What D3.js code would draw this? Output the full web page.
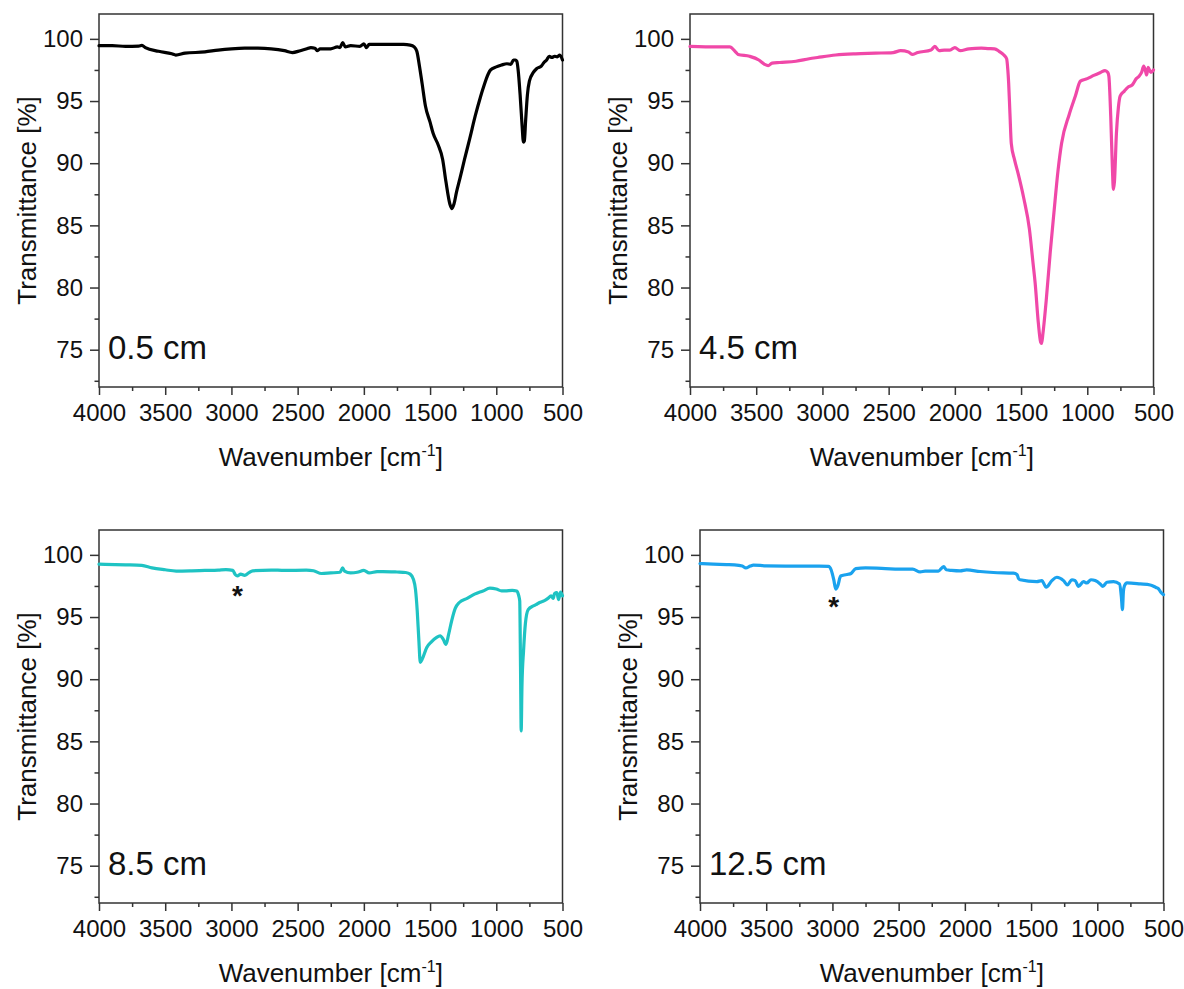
<!DOCTYPE html>
<html>
<head>
<meta charset="utf-8">
<script src="https://cdn.jsdelivr.net/npm/d3@7"></script>
<style>
  body { margin: 0; background: #fff; }
  svg text { font-family: "Liberation Sans", Arial, sans-serif; fill: #111; }
  .frame { fill: none; stroke: #333; stroke-width: 1.5; }
  .axis line { stroke: #333; stroke-width: 1.5; }
  .axis path { display: none; }
  .axis text { font-size: 24px; fill: #111; font-family: "Liberation Sans", Arial, sans-serif; }
  .axis-title { font-size: 26px; }
  .panel-label { font-size: 33px; }
  .asterisk { font-size: 28px; font-weight: bold; }
  .spectrum { fill: none; stroke-width: 3.2; stroke-linejoin: round; stroke-linecap: round; }
</style>
</head>
<body>
<div id="chart"></div>
<script>
// ---- data ----
const wavenumberDomain = [4000, 500];
const transmittanceDomain = [72, 102];
const wavenumberTicks = [4000, 3500, 3000, 2500, 2000, 1500, 1000, 500];
const wavenumberMinorTicks = [3750, 3250, 2750, 2250, 1750, 1250, 750];
const transmittanceTicks = [75, 80, 85, 90, 95, 100];
const transmittanceMinorTicks = [72.5, 77.5, 82.5, 87.5, 92.5, 97.5];

const panelLabels = ["0.5 cm", "4.5 cm", "8.5 cm", "12.5 cm"];
const seriesColors = ["#000000", "#f048a8", "#1fc3c3", "#1aa2ee"];

// [wavenumber, transmittance]
const spectrum05 = [
  [4000, 99.45], [3900, 99.45], [3800, 99.4], [3700, 99.42], [3676, 99.48], [3650, 99.3],
  [3550, 99.0], [3450, 98.8], [3420, 98.7], [3350, 98.85], [3200, 98.95], [3100, 99.1],
  [3000, 99.2], [2900, 99.25], [2800, 99.25], [2700, 99.2], [2600, 99.05], [2540, 98.9],
  [2480, 99.05], [2430, 99.2], [2400, 99.3], [2370, 99.25], [2350, 99.05], [2330, 99.2],
  [2250, 99.2], [2200, 99.35], [2180, 99.3], [2160, 99.7], [2140, 99.35], [2100, 99.45],
  [2030, 99.4], [2000, 99.6], [1980, 99.3], [1960, 99.55], [1900, 99.55], [1800, 99.55],
  [1700, 99.55], [1650, 99.5], [1620, 99.35], [1600, 99.0], [1580, 97.8], [1560, 96.4],
  [1535, 94.6], [1500, 93.3], [1477, 92.4], [1440, 91.5], [1405, 90.3], [1380, 88.5],
  [1350, 86.7], [1335, 86.35], [1320, 86.7], [1300, 87.7], [1274, 88.8], [1240, 90.3],
  [1200, 92.0], [1159, 93.8], [1120, 95.3], [1100, 96.0], [1060, 97.2], [1043, 97.5],
  [1000, 97.75], [960, 97.9], [920, 98.0], [890, 97.95], [870, 98.3], [855, 98.3],
  [845, 98.2], [835, 97.5], [820, 95.5], [805, 93.0], [795, 91.7], [788, 91.8],
  [778, 93.5], [765, 95.5], [750, 96.6], [720, 97.3], [696, 97.6], [660, 97.8],
  [640, 98.1], [620, 98.3], [600, 98.6], [580, 98.5], [560, 98.6], [540, 98.55],
  [520, 98.7], [500, 98.3]
];

const spectrum45 = [
  [4000, 99.4], [3800, 99.35], [3700, 99.35], [3660, 99.0], [3637, 98.75], [3550, 98.6],
  [3480, 98.3], [3437, 97.95], [3410, 97.85], [3380, 98.05], [3323, 98.1], [3200, 98.2],
  [3100, 98.4], [3037, 98.5], [2900, 98.7], [2751, 98.8], [2600, 98.85], [2466, 98.9],
  [2409, 99.05], [2350, 98.95], [2323, 98.75], [2280, 98.9], [2180, 99.1], [2151, 99.4],
  [2120, 99.05], [2080, 99.1], [2037, 99.1], [2000, 99.3], [1960, 99.05], [1894, 99.2],
  [1800, 99.25], [1751, 99.22], [1700, 99.2], [1666, 99.0], [1630, 98.7], [1609, 98.4],
  [1600, 97.5], [1594, 96.5], [1584, 94.0], [1574, 91.6], [1550, 90.3], [1523, 89.2],
  [1480, 87.2], [1437, 84.7], [1410, 82.0], [1394, 80.4], [1370, 77.2], [1352, 75.6],
  [1345, 75.5], [1335, 76.3], [1309, 79.1], [1280, 82.8], [1252, 86.0], [1220, 89.5],
  [1194, 91.6], [1137, 93.9], [1090, 95.4], [1052, 96.6], [1000, 96.8], [951, 97.06],
  [900, 97.3], [866, 97.45], [845, 97.3], [837, 97.0], [823, 93.8], [810, 89.5],
  [803, 87.9], [795, 88.5], [780, 92.4], [765, 94.5], [752, 95.4], [720, 95.8],
  [694, 96.1], [660, 96.3], [630, 96.8], [609, 97.0], [590, 97.3], [574, 97.8],
  [560, 97.4], [552, 97.1], [540, 97.7], [520, 97.3], [500, 97.5]
];

const spectrum85 = [
  [4000, 99.25], [3800, 99.2], [3677, 99.15], [3600, 98.95], [3500, 98.8], [3417, 98.7],
  [3300, 98.72], [3200, 98.75], [3100, 98.78], [3041, 98.82], [2990, 98.75], [2970, 98.4],
  [2955, 98.3], [2930, 98.45], [2900, 98.35], [2870, 98.55], [2839, 98.72], [2700, 98.78],
  [2600, 98.75], [2435, 98.77], [2380, 98.72], [2320, 98.5], [2250, 98.55], [2180, 98.6],
  [2160, 98.95], [2146, 98.7], [2100, 98.55], [2050, 98.6], [2000, 98.75], [1960, 98.55],
  [1900, 98.65], [1857, 98.66], [1750, 98.62], [1684, 98.58], [1650, 98.45], [1626, 98.04],
  [1610, 97.2], [1597, 95.5], [1585, 93.2], [1574, 91.35], [1560, 91.6], [1525, 92.55],
  [1490, 93.0], [1453, 93.35], [1424, 93.49], [1400, 93.2], [1380, 92.8], [1360, 93.6],
  [1337, 94.7], [1310, 95.7], [1279, 96.17], [1220, 96.5], [1164, 96.84], [1100, 97.1],
  [1048, 97.32], [1000, 97.25], [960, 97.1], [933, 97.1], [880, 97.15], [846, 97.1],
  [830, 96.7], [823, 96.3], [817, 91.0], [812, 85.85], [806, 89.5], [794, 92.3],
  [780, 94.5], [759, 95.6], [720, 95.9], [700, 96.0], [673, 96.17], [640, 96.3],
  [610, 96.5], [586, 96.7], [570, 96.5], [560, 96.9], [543, 96.97], [530, 96.4],
  [515, 97.0], [500, 96.7]
];

const spectrum125 = [
  [4000, 99.3], [3900, 99.25], [3800, 99.22], [3740, 99.2], [3680, 99.1], [3654, 98.95],
  [3620, 99.1], [3597, 99.18], [3500, 99.12], [3300, 99.1], [3100, 99.1], [3030, 99.08],
  [3010, 98.8], [2990, 98.0], [2975, 97.25], [2960, 97.5], [2938, 98.3], [2900, 98.4],
  [2881, 98.44], [2860, 98.5], [2824, 98.9], [2750, 98.95], [2600, 98.9], [2500, 98.85],
  [2394, 98.85], [2337, 98.63], [2300, 98.7], [2200, 98.7], [2160, 99.05], [2140, 98.8],
  [2100, 98.75], [2036, 98.71], [1986, 98.79], [1885, 98.66], [1784, 98.58], [1633, 98.53],
  [1605, 98.4], [1595, 98.1], [1583, 98.0], [1457, 97.85], [1419, 97.93], [1386, 97.4],
  [1343, 97.93], [1306, 98.2], [1255, 97.93], [1225, 97.58], [1192, 98.0], [1167, 97.93],
  [1142, 97.47], [1104, 97.85], [1079, 97.74], [1048, 98.0], [1016, 97.93], [978, 97.66],
  [958, 97.47], [927, 97.8], [877, 97.85], [832, 97.66], [818, 96.6], [810, 95.6],
  [803, 97.0], [795, 97.5], [776, 97.74], [675, 97.66], [600, 97.58], [557, 97.38],
  [540, 97.3], [520, 97.0], [500, 96.8]
];

const spectra = [spectrum05, spectrum45, spectrum85, spectrum125];
// [wavenumber, transmittance] of the "*" markers (null = none)
const asteriskMarks = [null, null, [2955, 97.25], [2990, 96.35]];

// ---- panel layout ----
const panelLayout = [
  { left: 99, top: 14 },
  { left: 690, top: 14 },
  { left: 99, top: 530 },
  { left: 700, top: 530 }
];
const panelWidth = 463.5;
const panelHeight = 373;

class SpectrumPanel {
  constructor(_svg, _layout, _data, _color, _label, _asterisk) {
    this.svg = _svg;
    this.layout = _layout;
    this.data = _data;
    this.color = _color;
    this.label = _label;
    this.asterisk = _asterisk;
    this.initVis();
  }

  initVis() {
    let vis = this;
    vis.width = panelWidth;
    vis.height = panelHeight;

    vis.g = vis.svg
      .append("g")
      .attr("transform", "translate(" + vis.layout.left + "," + vis.layout.top + ")");

    vis.x = d3.scaleLinear().domain(wavenumberDomain).range([0, vis.width]);
    vis.y = d3.scaleLinear().domain(transmittanceDomain).range([vis.height, 0]);

    // major + minor ticks, bottom
    vis.g.append("g")
      .attr("class", "axis")
      .attr("transform", "translate(0," + vis.height + ")")
      .call(d3.axisBottom(vis.x).tickValues(wavenumberTicks).tickSize(8).tickPadding(9).tickFormat(d3.format("d")));
    vis.g.append("g")
      .attr("class", "axis")
      .attr("transform", "translate(0," + vis.height + ")")
      .call(d3.axisBottom(vis.x).tickValues(wavenumberMinorTicks).tickSize(4).tickFormat(""));

    // major + minor ticks, left
    vis.g.append("g")
      .attr("class", "axis")
      .call(d3.axisLeft(vis.y).tickValues(transmittanceTicks).tickSize(9).tickPadding(7));
    vis.g.append("g")
      .attr("class", "axis")
      .call(d3.axisLeft(vis.y).tickValues(transmittanceMinorTicks).tickSize(4.5).tickFormat(""));

    // box around plot area
    vis.g.append("rect")
      .attr("class", "frame")
      .attr("width", vis.width)
      .attr("height", vis.height);

    // axis titles
    let xTitle = vis.g.append("text")
      .attr("class", "axis-title")
      .attr("text-anchor", "middle")
      .attr("x", vis.width / 2)
      .attr("y", vis.height + 79);
    xTitle.append("tspan").text("Wavenumber [cm");
    xTitle.append("tspan").attr("dy", -10).style("font-size", "16px").text("-1");
    xTitle.append("tspan").attr("dy", 10).text("]");

    vis.g.append("text")
      .attr("class", "axis-title")
      .attr("text-anchor", "middle")
      .attr("transform", "translate(-63," + vis.height / 2 + ") rotate(-90)")
      .text("Transmittance [%]");

    vis.g.append("text")
      .attr("class", "panel-label")
      .attr("x", 9)
      .attr("y", vis.y(75) + 9)
      .text(vis.label);

    vis.updateVis();
  }

  updateVis() {
    let vis = this;

    vis.line = d3.line()
      .curve(d3.curveMonotoneX)
      .x(d => vis.x(d[0]))
      .y(d => vis.y(d[1]));

    vis.g.append("path")
      .datum(vis.data)
      .attr("class", "spectrum")
      .attr("stroke", vis.color)
      .attr("d", vis.line);

    if (vis.asterisk) {
      vis.g.append("text")
        .attr("class", "asterisk")
        .attr("text-anchor", "middle")
        .attr("x", vis.x(vis.asterisk[0]))
        .attr("y", vis.y(vis.asterisk[1]) + 16)
        .text("*");
    }
  }
}

const svg = d3.select("#chart")
  .append("svg")
  .attr("width", 1184)
  .attr("height", 989);

spectra.forEach((d, i) => {
  new SpectrumPanel(svg, panelLayout[i], d, seriesColors[i], panelLabels[i], asteriskMarks[i]);
});
</script>
</body>
</html>
